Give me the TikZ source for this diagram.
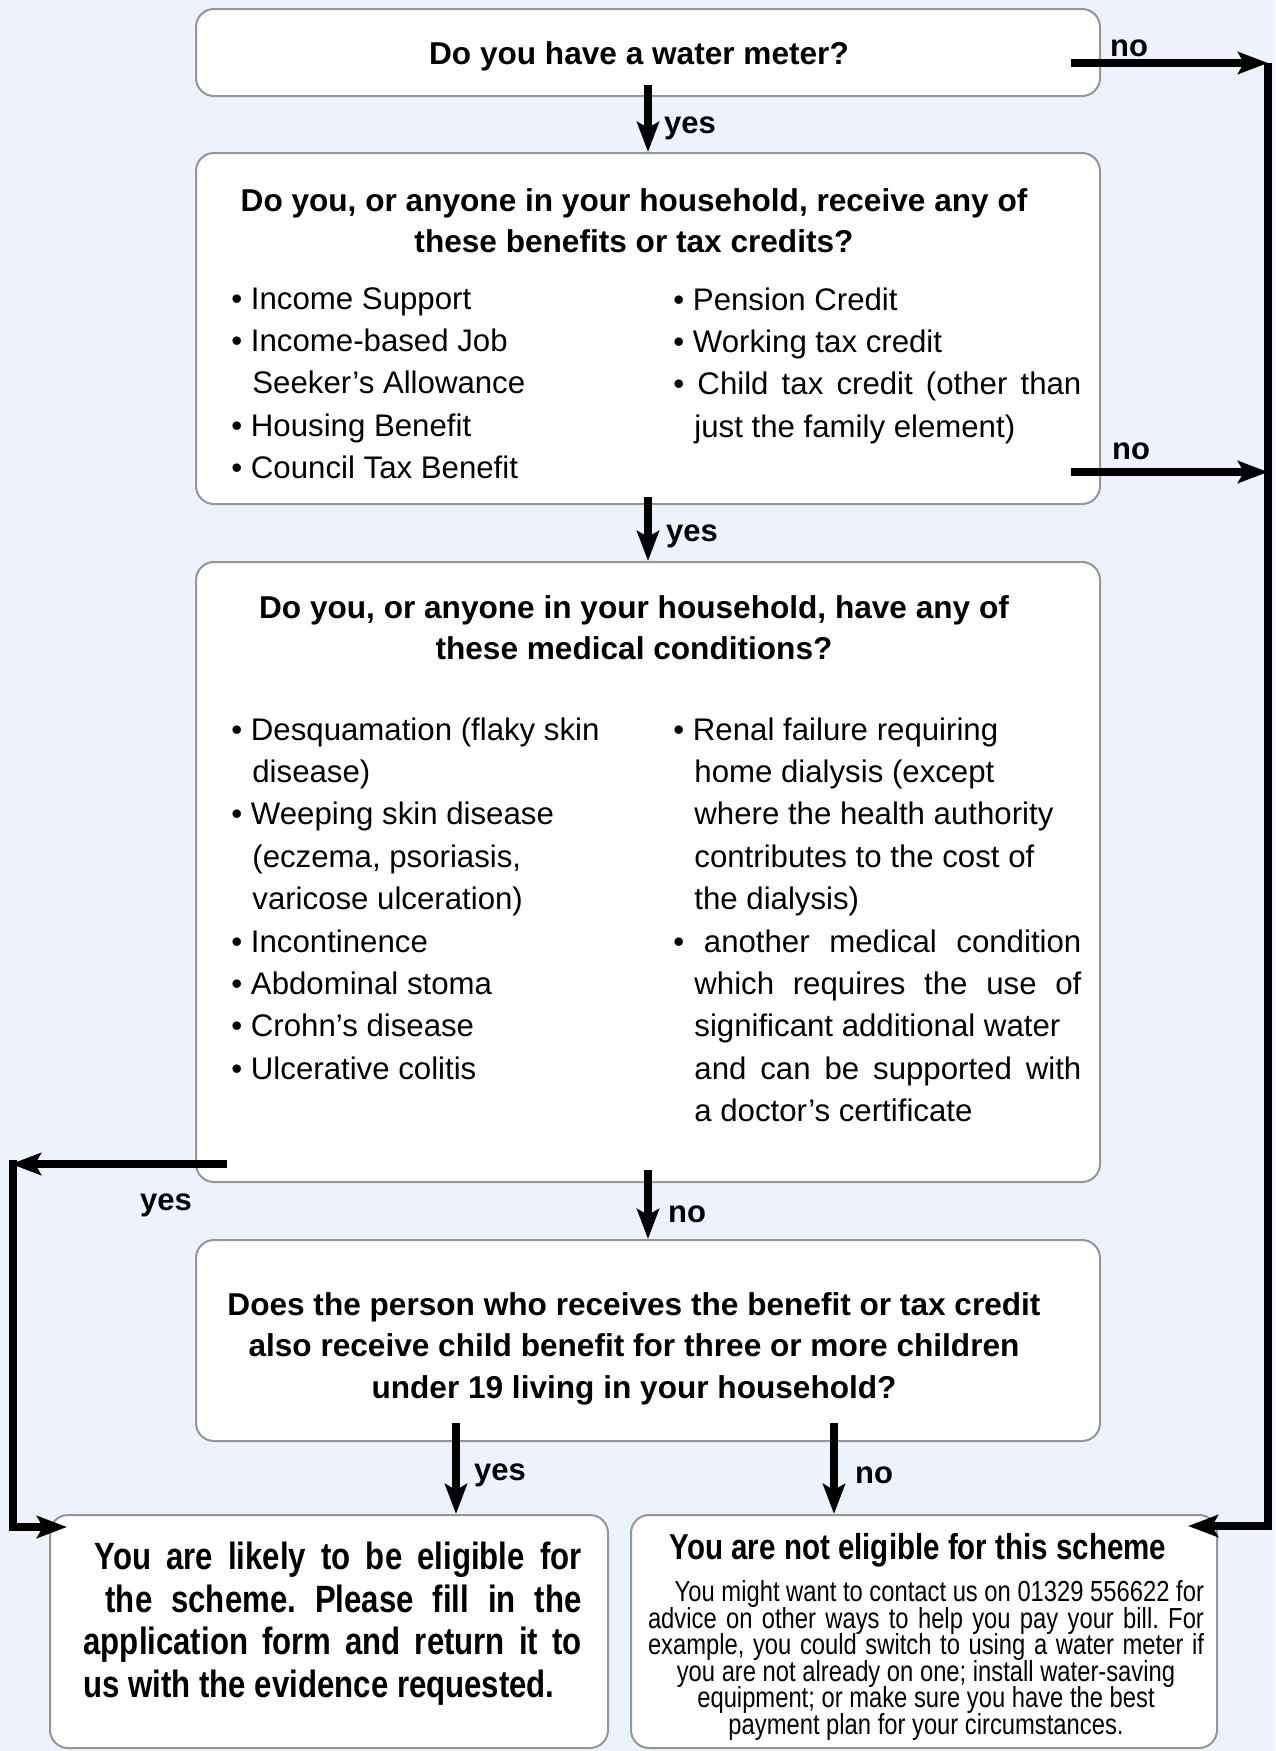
\documentclass[tikz,border=0pt]{standalone}
\usepackage{fontspec}
\setmainfont{Liberation Sans}
\newfontfamily\narrowfont[FakeStretch=0.82]{Liberation Sans}
\usetikzlibrary{arrows.meta,fit}
\definecolor{pagebg}{RGB}{237,243,252}
\definecolor{boxline}{RGB}{150,150,150}
\newcommand\ind{\hspace*{10.5pt}}
\frenchspacing
\tikzset{
  box/.style={draw=boxline, line width=1pt, fill=white, rounded corners=9pt, inner sep=0pt},
  question/.style={font=\bfseries\fontsize{15.8}{20.8}\selectfont, align=center, inner sep=0pt},
  items/.style={font=\fontsize{15.6}{21.2}\selectfont, align=left, inner sep=0pt},
  lbl/.style={font=\bfseries\fontsize{15.5}{18}\selectfont, inner sep=0pt},
  flow/.style={line width=4pt, ->},
  rail/.style={line width=4pt, line join=miter},
}
\begin{document}
\begin{tikzpicture}[x=.5pt, y=-.5pt, >={Stealth[length=15pt,width=11pt,inset=3pt]}]
\useasboundingbox (0,0) rectangle (1275,1751);
\fill[pagebg] (0,0) rectangle (1275,1751);

\node[box, fit={(196,9) (1100,96)}] (meter) {};
\node[box, fit={(196,153) (1100,504)}] (benefits) {};
\node[box, fit={(196,562) (1100,1182)}] (medical) {};
\node[box, fit={(196,1240) (1100,1441)}] (children) {};
\node[box, fit={(50,1515) (608,1748)}] (eligible) {};
\node[box, fit={(631,1515) (1217,1748)}] (noteligible) {};

\node[question] (meterq) at (639,56) {Do you have a water meter?};

\node[question, anchor=north] (benefitsq) at (634,188) {Do you, or anyone in your household, receive any of\\these benefits or tax credits?};
\node[items, anchor=north west] (benefitsleft) at (231,287) {•~Income Support\\ •~Income-based Job\\ \ind Seeker’s Allowance\\ •~Housing Benefit\\ •~Council Tax Benefit};
\node[items, anchor=north west] (benefitsright) at (673,287) {•~Pension Credit\\ •~Working tax credit\\ \makebox[204pt][s]{•~Child tax credit (other than}\\ \ind just the family element)};

\node[question, anchor=north] (medicalq) at (634,595) {Do you, or anyone in your household, have any of\\these medical conditions?};
\node[items, anchor=north west] (medicalleft) at (231,717) {•~Desquamation (flaky skin\\ \ind disease)\\ •~Weeping skin disease\\ \ind (eczema, psoriasis,\\ \ind varicose ulceration)\\ •~Incontinence\\ •~Abdominal stoma\\ •~Crohn’s disease\\ •~Ulcerative colitis};
\node[items, anchor=north west] (medicalright) at (673,717) {•~Renal failure requiring\\ \ind home dialysis (except\\ \ind where the health authority\\ \ind contributes to the cost of\\ \ind the dialysis)\\ \makebox[204pt][s]{•~another medical condition}\\ \ind\makebox[193.5pt][s]{which requires the use of}\\ \ind significant additional water\\ \ind\makebox[193.5pt][s]{and can be supported with}\\ \ind a doctor’s certificate};

\node[question, anchor=north] (childrenq) at (634,1292) {Does the person who receives the benefit or tax credit\\also receive child benefit for three or more children\\under 19 living in your household?};

\node[font=\narrowfont\bfseries\fontsize{19}{21.2}\selectfont, align=right, inner sep=0pt, anchor=north east] (eligibletext) at (582,1542) {\makebox[243.5pt][s]{You are likely to be eligible for}\\ \makebox[238pt][s]{the scheme. Please fill in the}\\ \makebox[249pt][s]{application form and return it to}\\ \makebox[249pt][l]{us with the evidence requested.}};

\node[font=\narrowfont\bfseries\fontsize{18}{20}\selectfont, inner sep=0pt, anchor=north] (noteligiblehead) at (918,1533) {You are not eligible for this scheme};
\node[font={\lineskiplimit=-6pt\relax\narrowfont\fontsize{14.5}{13.3}\selectfont}, align=center, inner sep=0pt, anchor=north] (noteligiblebody) at (926,1580) {\makebox[278pt][r]{You might want to contact us on 01329 556622 for}\\ \makebox[278pt][s]{advice on other ways to help you pay your bill. For}\\ \makebox[278pt][s]{example, you could switch to using a water meter if}\\ you are not already on one; install water-saving\\ equipment; or make sure you have the best\\ payment plan for your circumstances.};

\coordinate (railtop) at (1268,63);
\coordinate (railmid) at (1268,472);
\coordinate (railbot) at (1268,1526);
\coordinate (railleft) at (11,1164);
\coordinate (railleftbot) at (13,1527);
\coordinate (yesfoot) at ([shift={(-96pt,9.5pt)}]children.south);
\coordinate (nofoot) at ([shift={(93pt,9.5pt)}]children.south);

\draw[flow] ([yshift=6pt]meter.south) -- (benefits.north);
\draw[flow] ([yshift=4pt]benefits.south) -- (medical.north);
\draw[flow] ([yshift=6.5pt]medical.south) -- (children.north);
\draw[flow] (yesfoot) -- (yesfoot |- eligible.north);
\draw[flow] (nofoot) -- (nofoot |- noteligible.north);

\draw[flow] ([xshift=-15pt]railtop -| meter.east) -- (railtop);
\draw[flow] ([xshift=-15pt]railmid -| benefits.east) -- (railmid);
\draw[flow, rail] (railtop) -- (railbot) -- ([xshift=-15pt]railbot -| noteligible.east);

\draw[flow] ([xshift=16pt]railleft -| medical.west) -- (railleft);
\draw[flow, rail] ([yshift=2pt]railleftbot |- railleft) -- (railleftbot) -- ([xshift=9pt]railleftbot -| eligible.west);

\node[lbl] (yesmeter) at (690,128) {yes};
\node[lbl] (nometer) at (1129,48) {no};
\node[lbl] (yesbenefits) at (692,536) {yes};
\node[lbl] (nobenefits) at (1131,451) {no};
\node[lbl] (nomedical) at (687,1214) {no};
\node[lbl] (yesmedical) at (166,1205) {yes};
\node[lbl] (yeschildren) at (500,1475) {yes};
\node[lbl] (nochildren) at (874,1475) {no};
\end{tikzpicture}
\end{document}
